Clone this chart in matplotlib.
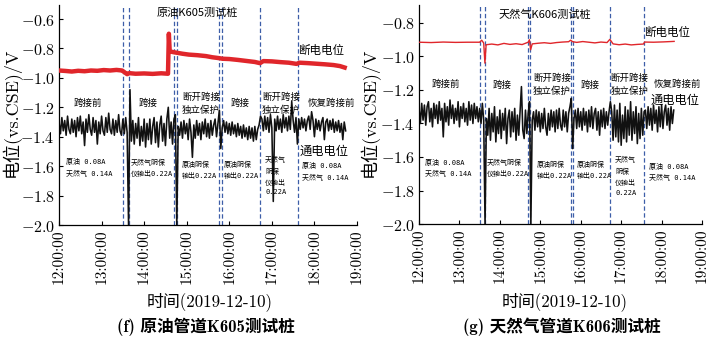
import numpy as np
import matplotlib
matplotlib.use('Agg')
import matplotlib.pyplot as plt

plt.rcParams['mathtext.fontset'] = 'cm'
plt.rcParams['font.family'] = ['DejaVu Serif', 'Noto Sans CJK SC']

# time axis in hours after 12:00; black (on-potential) series sampled every 2 min
hour_ticks = [0, 1, 2, 3, 4, 5, 6, 7]
hour_labels = ['12:00:00', '13:00:00', '14:00:00', '15:00:00',
               '16:00:00', '17:00:00', '18:00:00', '19:00:00']
step_min = 2

# ---- (f) crude oil pipeline K605
k605_on = [
    -1.30, -1.38, -1.27, -1.36, -1.29, -1.39, -1.26, -1.35, -1.38, -1.28,
    -1.37, -1.29, -1.40, -1.27, -1.36, -1.26, -1.38, -1.30, -1.46, -1.28,
    -1.37, -1.25, -1.35, -1.39, -1.27, -1.37, -1.29, -1.45, -1.30, -1.38,
    -1.26, -1.36, -1.39, -1.27, -1.37, -1.24, -1.35, -1.38, -1.28, -1.39,
    -1.29, -1.37, -1.25, -1.36, -1.39,
    -1.28, -1.38, -1.27, -1.37, -2.00, -1.08,
    -1.43, -1.29, -1.45, -1.31, -1.41, -1.27, -1.46, -1.33, -1.43, -1.28,
    -1.47, -1.31, -1.42, -1.28, -1.45, -1.33, -1.27, -1.44, -1.30, -1.47,
    -1.32, -1.26, -1.43, -1.31, -1.46, -1.28, -1.20, -1.41, -1.30, -1.45,
    -1.28,
    -1.25, -2.00, -1.33,
    -1.39, -1.30, -1.41, -1.29, -1.38, -1.31, -1.42, -1.28, -1.37, -1.54,
    -1.32, -1.41, -1.29, -1.39, -1.31, -1.42, -1.30, -1.38, -1.28, -1.40,
    -1.31, -1.41, -1.29, -1.39, -1.32, -1.28, -1.40, -1.31,
    -1.22, -1.48, -1.34,
    -1.29, -1.37, -1.30, -1.38, -1.31, -1.39, -1.30, -1.38, -1.32, -1.40,
    -1.31, -1.39, -1.33, -1.41, -1.32, -1.40, -1.34, -1.42, -1.33, -1.41,
    -1.34, -1.43, -1.33, -1.42, -1.35, -1.32,
    -1.26,
    -1.28, -1.36, -1.26, -1.35, -1.27, -1.37, -1.25, -1.34, -1.84, -1.28,
    -1.36, -1.26, -1.35, -1.28, -1.37, -1.25, -1.34, -1.27, -1.36, -1.26,
    -1.35, -1.16, -1.29, -1.37, -1.27,
    -1.45,
    -1.28, -1.35, -1.27, -1.34, -1.28, -1.36, -1.29, -1.26, -1.35, -1.23,
    -1.29, -1.40, -1.28, -1.35, -1.29, -1.36, -1.30, -1.27, -1.42, -1.30,
    -1.28, -1.36, -1.29, -1.35, -1.28, -1.37, -1.30, -1.36, -1.29, -1.37,
    -1.31, -1.42, -1.30, -1.36,
]
k605_off_t = [0.0, 0.15, 0.3, 0.45, 0.6, 0.75, 0.9, 1.05, 1.2, 1.35, 1.48, 1.52,
              1.6, 1.65, 1.8, 2.0, 2.2, 2.4, 2.56, 2.58, 2.6, 2.7, 2.78, 2.9,
              3.05, 3.25, 3.45, 3.6, 3.76, 3.84, 4.0, 4.2, 4.4, 4.6, 4.72, 4.8,
              5.0, 5.2, 5.4, 5.58, 5.65, 5.85, 6.05, 6.25, 6.45, 6.6, 6.71]
k605_off = [-0.950, -0.953, -0.957, -0.952, -0.955, -0.950, -0.952, -0.947, -0.950,
            -0.946, -0.950, -0.958, -0.975, -0.968, -0.972, -0.970, -0.973, -0.969,
            -0.972, -0.700, -0.820, -0.826, -0.830, -0.836, -0.842, -0.846, -0.852,
            -0.860, -0.866, -0.870, -0.872, -0.878, -0.885, -0.892, -0.900, -0.886,
            -0.888, -0.893, -0.897, -0.905, -0.897, -0.900, -0.904, -0.908, -0.913,
            -0.920, -0.930]
k605_switch = [1.51, 1.65, 2.71, 2.78, 3.76, 3.84, 4.73, 5.62]

# ---- (g) natural gas pipeline K606
k606_on = [
    -1.31, -1.40, -1.28, -1.38, -1.29, -1.41, -1.30, -1.27, -1.39, -1.31,
    -1.42, -1.28, -1.37, -1.29, -1.40, -1.27, -1.38, -1.31, -1.48, -1.28,
    -1.39, -1.30, -1.41, -1.26, -1.37, -1.29, -1.40, -1.31, -1.38, -1.27,
    -1.42, -1.30, -1.37, -1.28, -1.39, -1.31, -1.41, -1.27, -1.38, -1.29,
    -1.40, -1.28, -1.37, -1.30, -1.39,
    -1.31, -1.40, -1.28, -1.38, -2.00, -1.37,
    -1.47, -1.31, -1.50, -1.34, -1.45, -1.30, -1.51, -1.36, -1.46, -1.32,
    -1.49, -1.34, -1.44, -1.31, -1.52, -1.37, -1.32, -1.48, -1.33, -1.45,
    -1.31, -1.50, -1.35, -1.47, -1.32, -1.18, -1.44, -1.49, -1.32, -1.46,
    -1.34,
    -1.27, -2.00, -1.38,
    -1.33, -1.44, -1.32, -1.42, -1.33, -1.45, -1.34, -1.43, -1.31, -1.42,
    -1.47, -1.34, -1.44, -1.32, -1.42, -1.33, -1.45, -1.32, -1.43, -1.31,
    -1.41, -1.44, -1.32, -1.42, -1.33, -1.45, -1.34,
    -1.30, -1.25, -1.55, -1.37,
    -1.32, -1.43, -1.31, -1.42, -1.33, -1.44, -1.31, -1.41, -1.33, -1.45,
    -1.32, -1.42, -1.30, -1.43, -1.34, -1.31, -1.44, -1.33, -1.47, -1.32,
    -1.42, -1.31, -1.43, -1.33, -1.41,
    -1.33, -1.27,
    -1.33, -1.50, -1.29, -1.48, -1.32, -1.51, -1.28, -1.53, -1.35, -1.49,
    -1.30, -1.51, -1.32, -1.47, -1.27, -1.50, -1.33, -1.46, -1.30, -1.52,
    -1.34, -1.49, -1.31, -1.47,
    -1.33,
    -1.32, -1.43, -1.30, -1.41, -1.31, -1.44, -1.29, -1.40, -1.32, -1.45,
    -1.30, -1.42, -1.29, -1.43, -1.33, -1.29, -1.41, -1.31, -1.44, -1.30,
    -1.40, -1.32,
]
k606_off_t = [0.0, 0.3, 0.6, 0.9, 1.2, 1.5, 1.55, 1.6, 1.63, 1.66, 1.8, 1.95,
              2.1, 2.25, 2.4, 2.55, 2.7, 2.73, 2.76, 2.8, 2.95, 3.1, 3.25, 3.4,
              3.55, 3.7, 3.75, 3.8, 3.9, 4.05, 4.2, 4.35, 4.5, 4.65, 4.72, 4.8,
              4.95, 5.1, 5.25, 5.4, 5.55, 5.58, 5.8, 6.05, 6.31]
k606_off = [-0.915, -0.917, -0.914, -0.916, -0.915, -0.915, -0.903, -0.920, -1.040,
            -0.930, -0.926, -0.931, -0.922, -0.928, -0.924, -0.929, -0.915, -0.900,
            -0.960, -0.925, -0.921, -0.918, -0.922, -0.917, -0.914, -0.912, -0.903,
            -0.912, -0.916, -0.911, -0.915, -0.919, -0.914, -0.917, -0.898, -0.925,
            -0.930, -0.926, -0.931, -0.928, -0.926, -0.914, -0.915, -0.913, -0.910]
k606_switch = [1.51, 1.63, 2.69, 2.74, 3.75, 3.80, 4.72, 5.56]

RED = '#e0262b'
BLUE = '#3d5ea8'
CJK = ['Noto Sans CJK SC', 'DejaVu Sans']
SMALL = ['DejaVu Sans Mono', 'Noto Sans CJK SC']
SERIF = ['cmr10', 'Noto Sans CJK SC']

panels = [
    dict(pos=[0.0829, 0.3459, 0.4185, 0.6395], ylim=(-2.0, -0.505),
         yticks=[-2.0, -1.8, -1.6, -1.4, -1.2, -1.0, -0.8, -0.6],
         on=k605_on, off_t=k605_off_t, off=k605_off, off_lw=3.2, switch=k605_switch,
         title='原油K605测试桩', title_xy=(3.26, -0.56),
         off_lab=(5.61, -0.817), on_lab=(5.66, -1.50),
         stages=[(0.35, -1.17, '跨接前'), (1.88, -1.17, '跨接'),
                 (2.89, -1.176, '断开跨接\n独立保护'), (4.04, -1.175, '跨接'),
                 (4.77, -1.176, '断开跨接\n独立保护'), (5.85, -1.17, '恢复跨接前')],
         notes=[(0.16, -1.61, '原油 0.08A\n天然气 0.14A'),
                (1.69, -1.61, '天然气阴保\n仪输出0.22A'),
                (2.89, -1.624, '原油阴保\n输出0.22A'),
                (3.87, -1.624, '原油阴保\n输出0.22A'),
                (4.84, -1.664, '天然气\n阴保\n仪输出\n0.22A'),
                (5.70, -1.637, '原油 0.08A\n天然气 0.14A')],
         ylab_x=12, xlab_x=210, cap_x=206, cap='(f) 原油管道K605测试桩'),
    dict(pos=[0.5885, 0.3488, 0.3975, 0.6366], ylim=(-2.0, -0.693),
         yticks=[-2.0, -1.8, -1.6, -1.4, -1.2, -1.0, -0.8],
         on=k606_on, off_t=k606_off_t, off=k606_off, off_lw=1.0, switch=k606_switch,
         title='天然气K606测试桩', title_xy=(3.12, -0.752),
         off_lab=(5.57, -0.854), on_lab=(5.72, -1.26),
         stages=[(0.32, -1.164, '跨接前'), (1.83, -1.17, '跨接'),
                 (2.82, -1.17, '断开跨接\n独立保护'), (3.99, -1.17, '跨接'),
                 (4.73, -1.17, '断开跨接\n独立保护'), (5.79, -1.164, '恢复跨接前')],
         notes=[(0.15, -1.666, '原油 0.08A\n天然气 0.14A'),
                (1.68, -1.666, '天然气阴保\n仪输出0.22A'),
                (2.90, -1.678, '原油阴保\n输出0.22A'),
                (3.89, -1.678, '原油阴保\n输出0.22A'),
                (4.85, -1.713, '天然气\n阴保\n仪输出\n0.22A'),
                (5.69, -1.69, '原油 0.08A\n天然气 0.14A')],
         ylab_x=370, xlab_x=565, cap_x=562, cap='(g) 天然气管道K606测试桩'),
]

W, H = 712, 344
fig = plt.figure(figsize=(W / 100, H / 100), dpi=100)

for p in panels:
    ax = fig.add_axes(p['pos'])
    on_t = np.arange(len(p['on'])) * step_min / 60.0
    for xs in p['switch']:
        ax.axvline(xs, color=BLUE, lw=0.9, ls=(0, (3.5, 2.0)), zorder=1)
    ax.plot(on_t, p['on'], color='#111111', lw=1.15, zorder=2)
    ax.plot(p['off_t'], p['off'], color=RED, lw=p['off_lw'], zorder=3,
            solid_joinstyle='round')

    ax.set_xlim(0, 7)
    ax.set_ylim(*p['ylim'])
    ax.set_xticks(hour_ticks)
    ax.set_xticklabels(hour_labels, rotation=90, fontsize=11, family='cmr10')
    ax.set_yticks(p['yticks'])
    ax.set_yticklabels(['$%.1f$' % v for v in p['yticks']], fontsize=11.5)
    ax.tick_params(direction='in', length=3, width=0.8, pad=3)
    for s in ('top', 'right'):
        ax.spines[s].set_visible(False)
    for s in ('left', 'bottom'):
        ax.spines[s].set_linewidth(0.9)

    ax.text(*p['title_xy'], p['title'], ha='center', va='center',
            fontsize=8, family=CJK)
    ax.text(*p['off_lab'], '断电电位', ha='left', va='center', fontsize=8.3, family=CJK)
    ax.text(*p['on_lab'], '通电电位', ha='left', va='center', fontsize=8.8, family=CJK)
    for x, y, s in p['stages']:
        ax.text(x, y, s, ha='left', va='center', fontsize=6.8, family=CJK,
                linespacing=1.4)
    for x, y, s in p['notes']:
        ax.text(x, y, s, ha='left', va='center', fontsize=5, family=SMALL,
                linespacing=1.7)

    fig.text(p['ylab_x'] / W, 1 - 112 / H, '电位(vs.CSE)/V', rotation=90,
             ha='center', va='center', fontsize=13, family=SERIF)
    fig.text(p['xlab_x'] / W, 1 - 302 / H, '时间(2019-12-10)',
             ha='center', va='center', fontsize=12.2, family=SERIF)
    fig.text(p['cap_x'] / W, 1 - 327 / H, p['cap'], ha='center', va='center',
             fontsize=12, fontweight='bold', family=['cmb10', 'Noto Sans CJK SC'])

fig.savefig('out.png', dpi=100)
